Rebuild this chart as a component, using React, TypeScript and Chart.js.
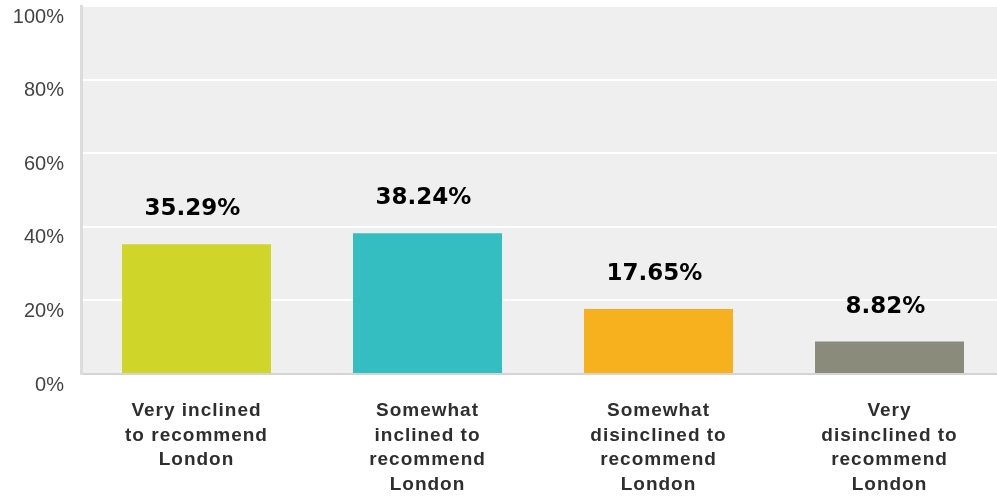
import React, { useEffect, useRef } from "react";
import { Chart, registerables, CategoryScale } from "chart.js";

Chart.register(...registerables);

class SpacedCategoryScale extends CategoryScale {
  static id = "spacedCategory";
  static defaults = CategoryScale.defaults;
  drawLabels(chartArea: any) {
    const ctx: any = this.ctx;
    const prev = ctx.letterSpacing;
    ctx.letterSpacing = "1px";
    super.drawLabels(chartArea);
    ctx.letterSpacing = prev || "0px";
  }
}
Chart.register(SpacedCategoryScale as any);

const categories: string[][] = [
  ["Very inclined", "to recommend", "London"],
  ["Somewhat", "inclined to", "recommend", "London"],
  ["Somewhat", "disinclined to", "recommend", "London"],
  ["Very", "disinclined to", "recommend", "London"],
];
const values: number[] = [35.29, 38.24, 17.65, 8.82];
const barColors: string[] = ["#d0d52a", "#35bec1", "#f7b11f", "#8a8b7a"];
const yTicks: number[] = [0, 20, 40, 60, 80, 100];

const plotBackground = {
  id: "plotBackground",
  beforeDraw(chart: any) {
    const { ctx, chartArea } = chart;
    ctx.save();
    ctx.fillStyle = "#efefef";
    ctx.fillRect(chartArea.left, chartArea.top, chartArea.right - chartArea.left, chartArea.bottom - chartArea.top);
    ctx.restore();
  },
};

const valueLabels = {
  id: "valueLabels",
  afterDatasetsDraw(chart: any) {
    const { ctx } = chart;
    const meta = chart.getDatasetMeta(0);
    ctx.save();
    ctx.font = "bold 23px 'DejaVu Sans'";
    ctx.fillStyle = "#000000";
    ctx.textAlign = "center";
    ctx.textBaseline = "alphabetic";
    meta.data.forEach((el: any, i: number) => {
      ctx.fillText(values[i].toFixed(2) + "%", el.x - 4, el.y - 29);
    });
    ctx.restore();
  },
};

export default function App() {
  const canvasRef = useRef<HTMLCanvasElement | null>(null);

  useEffect(() => {
    if (!canvasRef.current) return;
    const chart = new Chart(canvasRef.current, {
      type: "bar",
      data: {
        labels: categories,
        datasets: [
          {
            data: values,
            backgroundColor: barColors,
            borderWidth: 0,
            categoryPercentage: 1,
            barPercentage: 0.645,
          },
        ],
      },
      options: {
        responsive: false,
        animation: false,
        layout: { padding: { top: 6, left: 0, right: 0, bottom: 0 } },
        plugins: {
          legend: { display: false },
          tooltip: { enabled: false },
        },
        scales: {
          x: {
            type: "spacedCategory" as any,
            grid: { display: false, drawTicks: false },
            border: { display: true, color: "#d4d4d4", width: 2 },
            ticks: {
              color: "#2e2e2e",
              font: { family: "'Liberation Sans', Arial, sans-serif", size: 19, weight: "bold", lineHeight: "24.5px" as any },
              padding: 25,
              maxRotation: 0,
              autoSkip: false,
            },
            afterFit(scale: any) {
              scale.height = 123;
              scale.paddingLeft = 0;
              scale.paddingRight = 0;
            },
          } as any,
          y: {
            min: 0,
            max: 100,
            afterBuildTicks(scale: any) {
              scale.ticks = yTicks.map((v) => ({ value: v }));
            },
            grid: { color: "#ffffff", lineWidth: 2, drawTicks: false },
            border: { display: true, color: "#dcdcdc", width: 3 },
            ticks: {
              color: "#444444",
              font: { family: "'Liberation Sans', Arial, sans-serif", size: 20 },
              padding: 17,
              labelOffset: 11,
              callback: (v: any) => v + "%",
            },
            afterFit(scale: any) {
              scale.width = 81;
              scale.paddingTop = 0;
              scale.paddingBottom = 0;
            },
          },
        },
      },
      plugins: [plotBackground, valueLabels],
    });
    return () => chart.destroy();
  }, []);

  return (
    <div style={{ position: "fixed", left: 0, top: 0, width: 997, height: 497, overflow: "hidden", background: "#ffffff" }}>
      <canvas ref={canvasRef} width={1005} height={497} style={{ display: "block", width: 1005, height: 497 }} />
    </div>
  );
}
